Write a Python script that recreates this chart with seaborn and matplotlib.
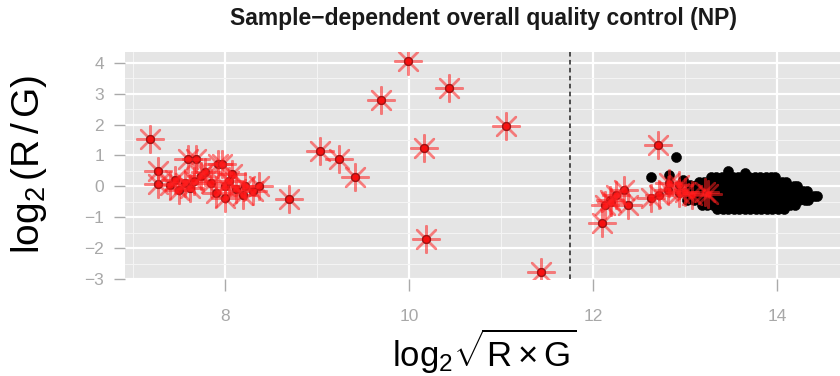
import matplotlib
matplotlib.use("Agg")
import matplotlib.pyplot as plt
from matplotlib.ticker import MultipleLocator
import seaborn as sns
import pandas as pd

# ---------------- data ----------------
# flagged (red) spots
flag_x = [7.19, 7.27, 7.27, 7.40, 7.46, 7.50, 7.57, 7.60, 7.62, 7.66, 7.68, 7.74,
          7.78, 7.85, 7.90, 7.92, 7.97, 8.00, 8.00, 8.04, 8.08, 8.12, 8.20, 8.22,
          8.30, 8.37, 8.70,
          9.03, 9.24, 9.41, 9.70, 9.99, 10.43, 10.16, 10.18, 11.05, 11.43,
          12.10, 12.13, 12.19, 12.20, 12.25, 12.34, 12.38, 12.71, 12.63, 12.72,
          12.81, 12.83, 12.93, 12.93, 13.00, 13.08, 13.22, 13.25]
flag_y = [1.54, 0.51, 0.08, 0.05, 0.21, -0.11, 0.10, 0.89, -0.05, 0.16, 0.88, 0.32,
          0.45, 0.10, -0.22, 0.73, 0.73, 0.00, -0.38, 0.16, 0.41, -0.10, -0.27, 0.00,
          -0.15, 0.00, -0.41,
          1.15, 0.89, 0.30, 2.78, 4.07, 3.18, 1.24, -1.70, 1.97, -2.78,
          -1.20, -0.60, -0.44, -0.50, -0.27, -0.13, -0.62, 1.34, -0.38, -0.27,
          -0.11, 0.10, 0.05, -0.22, -0.17, -0.27, -0.17, -0.25]

# regular (black) spots: a few isolated ones, then the dense cloud row by row
lone_x = [12.63, 12.83, 12.90, 13.47, 13.65, 12.98, 13.02, 13.05]
lone_y = [0.30, 0.37, 0.96, 0.51, 0.42, 0.20, -0.45, 0.05]
row_levels = [0.30, 0.15, 0.00, -0.15, -0.30, -0.45, -0.60, -0.73]
row_xs = [
    [13.28, 13.34, 13.40, 13.46, 13.52, 13.58, 13.64, 13.70, 13.76, 13.82, 13.88,
     13.94, 13.98],
    [13.15, 13.21, 13.27, 13.33, 13.39, 13.45, 13.51, 13.57, 13.63, 13.69, 13.75,
     13.81, 13.87, 13.93, 13.99, 14.05, 14.10],
    [13.10, 13.16, 13.22, 13.28, 13.34, 13.40, 13.46, 13.52, 13.58, 13.64, 13.70,
     13.76, 13.82, 13.88, 13.94, 14.00, 14.06, 14.12, 14.18, 14.22],
    [13.08, 13.14, 13.20, 13.26, 13.32, 13.38, 13.44, 13.50, 13.56, 13.62, 13.68,
     13.74, 13.80, 13.86, 13.92, 13.98, 14.04, 14.10, 14.16, 14.22, 14.28, 14.33],
    [13.08, 13.14, 13.20, 13.26, 13.32, 13.38, 13.44, 13.50, 13.56, 13.62, 13.68,
     13.74, 13.80, 13.86, 13.92, 13.98, 14.04, 14.10, 14.16, 14.22, 14.28, 14.34,
     14.40, 14.44],
    [13.10, 13.16, 13.22, 13.28, 13.34, 13.40, 13.46, 13.52, 13.58, 13.64, 13.70,
     13.76, 13.82, 13.88, 13.94, 14.00, 14.06, 14.12, 14.18, 14.24, 14.30, 14.34],
    [13.18, 13.24, 13.30, 13.36, 13.42, 13.48, 13.54, 13.60, 13.66, 13.72, 13.78,
     13.84, 13.90, 13.96, 14.02, 14.08, 14.14, 14.20],
    [13.35, 13.41, 13.47, 13.53, 13.59, 13.65, 13.71, 13.77, 13.83, 13.89, 13.95,
     14.01, 14.08],
]

cutoff_x = 11.75
x_ticks = [8, 10, 12, 14]
y_ticks = [-3, -2, -1, 0, 1, 2, 3, 4]
title = "Sample\u2212dependent overall quality control (NP)"
xlabel = r"$\log_2\!\sqrt{\mathrm{R}\times\mathrm{G}}$"
ylabel = r"$\log_2(\mathrm{R}\,/\,\mathrm{G})$"

# ---------------- style ----------------
sns.set_theme(style="darkgrid")
plt.rcParams["font.family"] = ["Liberation Sans", "DejaVu Sans"]
plt.rcParams["mathtext.fontset"] = "custom"
plt.rcParams["mathtext.rm"] = "Liberation Sans"
plt.rcParams["mathtext.it"] = "Liberation Sans:italic"
plt.rcParams["mathtext.bf"] = "Liberation Sans:bold"

fig = plt.figure(figsize=(8.4, 3.76), dpi=100)
fig.patch.set_facecolor("white")
ax = fig.add_axes([125 / 840, (376 - 279) / 376, 715 / 840, 227 / 376])
ax.set_facecolor("#E5E5E5")

spot_x = list(lone_x)
spot_y = list(lone_y)
for lvl, xs in zip(row_levels, row_xs):
    spot_x += xs
    spot_y += [lvl] * len(xs)
spots = pd.DataFrame({"x": spot_x, "y": spot_y})
flags = pd.DataFrame({"x": flag_x, "y": flag_y})

sns.scatterplot(data=spots, x="x", y="y", ax=ax, color="black", s=52,
                edgecolor="black", linewidth=0.4, zorder=3)
sns.scatterplot(data=flags, x="x", y="y", ax=ax, color="#EE0000", s=32,
                edgecolor="#300000", linewidth=1.0, zorder=4)
sns.scatterplot(data=flags, x="x", y="y", ax=ax, marker=(8, 2, 0), s=370,
                color="#FF2020", edgecolor="#FF2020", linewidth=1.7, alpha=0.55,
                zorder=5)

ax.axvline(cutoff_x, color="#222222", linestyle=(0, (3, 2.2)), linewidth=1.1,
           zorder=6)

ax.set_xlim(6.913, 14.685)
ax.set_ylim(-3.0, 4.35)
ax.xaxis.set_major_locator(MultipleLocator(2))
ax.xaxis.set_minor_locator(MultipleLocator(1))
ax.yaxis.set_major_locator(MultipleLocator(1))
ax.yaxis.set_minor_locator(MultipleLocator(0.5))
ax.set_xticks(x_ticks)
ax.set_yticks(y_ticks)
ax.set_xticklabels([str(t) for t in x_ticks])
ax.set_yticklabels([str(t).replace("-", "\u2212") for t in y_ticks])

ax.grid(which="major", color="white", linewidth=1.6, zorder=0)
ax.grid(which="minor", color="#F4F4F4", linewidth=0.8, zorder=0)
ax.set_axisbelow(True)
for s in ax.spines.values():
    s.set_visible(False)

ax.tick_params(axis="both", which="major", colors="#AAAAAA", labelcolor="#A8A8A8",
               labelsize=12.5, width=1.0)
ax.tick_params(axis="x", which="major", length=8.5, pad=13, bottom=True)
ax.tick_params(axis="y", which="major", length=8, pad=7, left=True)
ax.tick_params(axis="both", which="minor", length=0)
ax.set_xlabel("")
ax.set_ylabel("")

fig.text(484 / 840, 1 - 18 / 376, title, ha="center", va="center",
         fontsize=16.5, fontweight="bold", color="#1a1a1a")
fig.text(484 / 840, 1 - 351 / 376, xlabel, ha="center", va="center",
         fontsize=25, color="black")
fig.text(29 / 840, 1 - 164 / 376, ylabel, ha="center", va="center",
         fontsize=28, color="black", rotation=90)

fig.savefig("out.png", dpi=100)
